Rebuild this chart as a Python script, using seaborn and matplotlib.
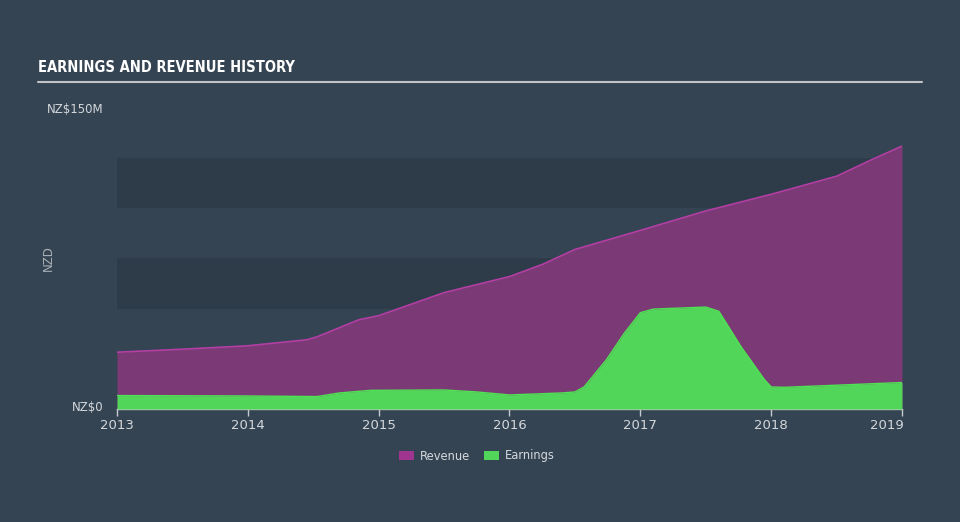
import matplotlib
matplotlib.use("Agg")
import matplotlib.pyplot as plt
import matplotlib.transforms as mtransforms
import seaborn as sns
import pandas as pd
from matplotlib.patches import Patch

# ---- data (NZ$ millions) ----
rev_years = [2013.00, 2013.50, 2014.00, 2014.45, 2014.53, 2014.85, 2015.00, 2015.50,
             2016.00, 2016.25, 2016.50, 2017.00, 2017.50, 2018.00, 2018.50, 2018.75, 2019.00]
revenue = [28.3, 29.8, 31.5, 34.5, 36.0, 44.5, 46.5, 58.0,
           66.0, 72.0, 79.5, 89.0, 98.7, 107.0, 116.0, 123.7, 131.0]

earn_years = [2013.00, 2014.00, 2014.53, 2014.70, 2014.94, 2015.50, 2015.75, 2016.00,
              2016.40, 2016.50, 2016.57, 2016.74, 2016.88, 2017.00, 2017.10, 2017.50,
              2017.60, 2017.77, 2017.95, 2018.00, 2018.10, 2019.00]
earnings = [6.7, 6.5, 6.2, 8.0, 9.3, 9.5, 8.5, 7.0,
            8.0, 8.5, 11.0, 24.5, 38.0, 48.0, 49.8, 50.8,
            48.7, 31.0, 14.5, 11.0, 10.8, 13.2]

year_ticks = [2013, 2014, 2015, 2016, 2017, 2018, 2019]
y_ticks = [0, 150]
y_tick_labels = ["NZ$0", "NZ$150M"]
band_ranges = [(50, 75), (100, 125)]

BG = "#344453"
BAND = "#2e3c4a"
REV_FILL = "#7b3a75"
REV_LINE = "#b53ea5"
EARN_FILL = "#52d65a"
EARN_LINE = "#4fe353"
TXT = "#d4d8dc"

sns.set_theme(style="white")
plt.rcParams["font.family"] = ["DejaVu Sans"]

fig = plt.figure(figsize=(9.6, 5.22), dpi=100, facecolor=BG)
ax = fig.add_axes([117 / 960, 1 - 409 / 522, (902 - 117) / 960, (409 - 108) / 522])
ax.set_facecolor(BG)

for lo, hi in band_ranges:
    ax.axhspan(lo, hi, color=BAND, lw=0, zorder=0)

rev_df = pd.DataFrame({"year": rev_years, "value": revenue})
earn_df = pd.DataFrame({"year": earn_years, "value": earnings})

ax.fill_between(rev_df["year"], 0, rev_df["value"], color=REV_FILL, lw=0, zorder=1)
sns.lineplot(data=rev_df, x="year", y="value", ax=ax, color=REV_LINE, lw=1.2, zorder=2)
ax.fill_between(earn_df["year"], 0, earn_df["value"], color=EARN_FILL, lw=0, zorder=3)
sns.lineplot(data=earn_df, x="year", y="value", ax=ax, color=EARN_LINE, lw=1.0, zorder=4)

ax.set_xlim(2013, 2019.0)
ax.set_ylim(0, 150)

for s in ["top", "right", "left"]:
    ax.spines[s].set_visible(False)
ax.spines["bottom"].set_color("#c4c9ce")
ax.spines["bottom"].set_linewidth(1.0)

ax.set_xticks(year_ticks)
ax.set_xticklabels([str(y) for y in year_ticks])
ax.tick_params(axis="x", colors="#c4c9ce", length=5, width=1, direction="out",
               labelcolor=TXT, labelsize=9.5, pad=2, bottom=True)

ax.set_yticks(y_ticks)
ax.set_yticklabels(y_tick_labels)
ax.tick_params(axis="y", length=0, labelcolor=TXT, labelsize=8.5, pad=10)

ax.set_xlabel("")
ax.set_ylabel("NZD", color="#aab0b6", fontsize=8.5)
ax.yaxis.set_label_coords(-0.079, 0.5)

fig.canvas.draw()
# shift the last year label so it ends at its tick
last = ax.xaxis.get_major_ticks()[-1].label1
last.set_transform(last.get_transform() +
                   mtransforms.ScaledTranslation(-15 / 100, 0, fig.dpi_scale_trans))
ylabs = ax.yaxis.get_major_ticks()
ylabs[0].label1.set_transform(ylabs[0].label1.get_transform() +
                              mtransforms.ScaledTranslation(0, 3 / 100, fig.dpi_scale_trans))

# title and rule
fig.text(38 / 960, 1 - 68 / 522, "EARNINGS AND REVENUE HISTORY", color="white",
         fontsize=10.5, fontweight="bold", fontstretch="condensed",
         family=["DejaVu Sans"], va="center", ha="left")
fig.add_artist(plt.Line2D([38 / 960, 922 / 960], [1 - 82 / 522, 1 - 82 / 522],
                          color="#c0c4c8", lw=1.5, transform=fig.transFigure))

handles = [Patch(facecolor="#a0358f", edgecolor="none", label="Revenue"),
           Patch(facecolor=EARN_FILL, edgecolor="none", label="Earnings")]
fig.legend(handles=handles, loc="center", bbox_to_anchor=(477 / 960, 1 - 456 / 522),
           ncol=2, frameon=False, fontsize=8.3, labelcolor=TXT,
           handlelength=1.3, handleheight=0.9, handletextpad=0.5, columnspacing=1.2)

fig.savefig("out.png", dpi=100, facecolor=BG)
